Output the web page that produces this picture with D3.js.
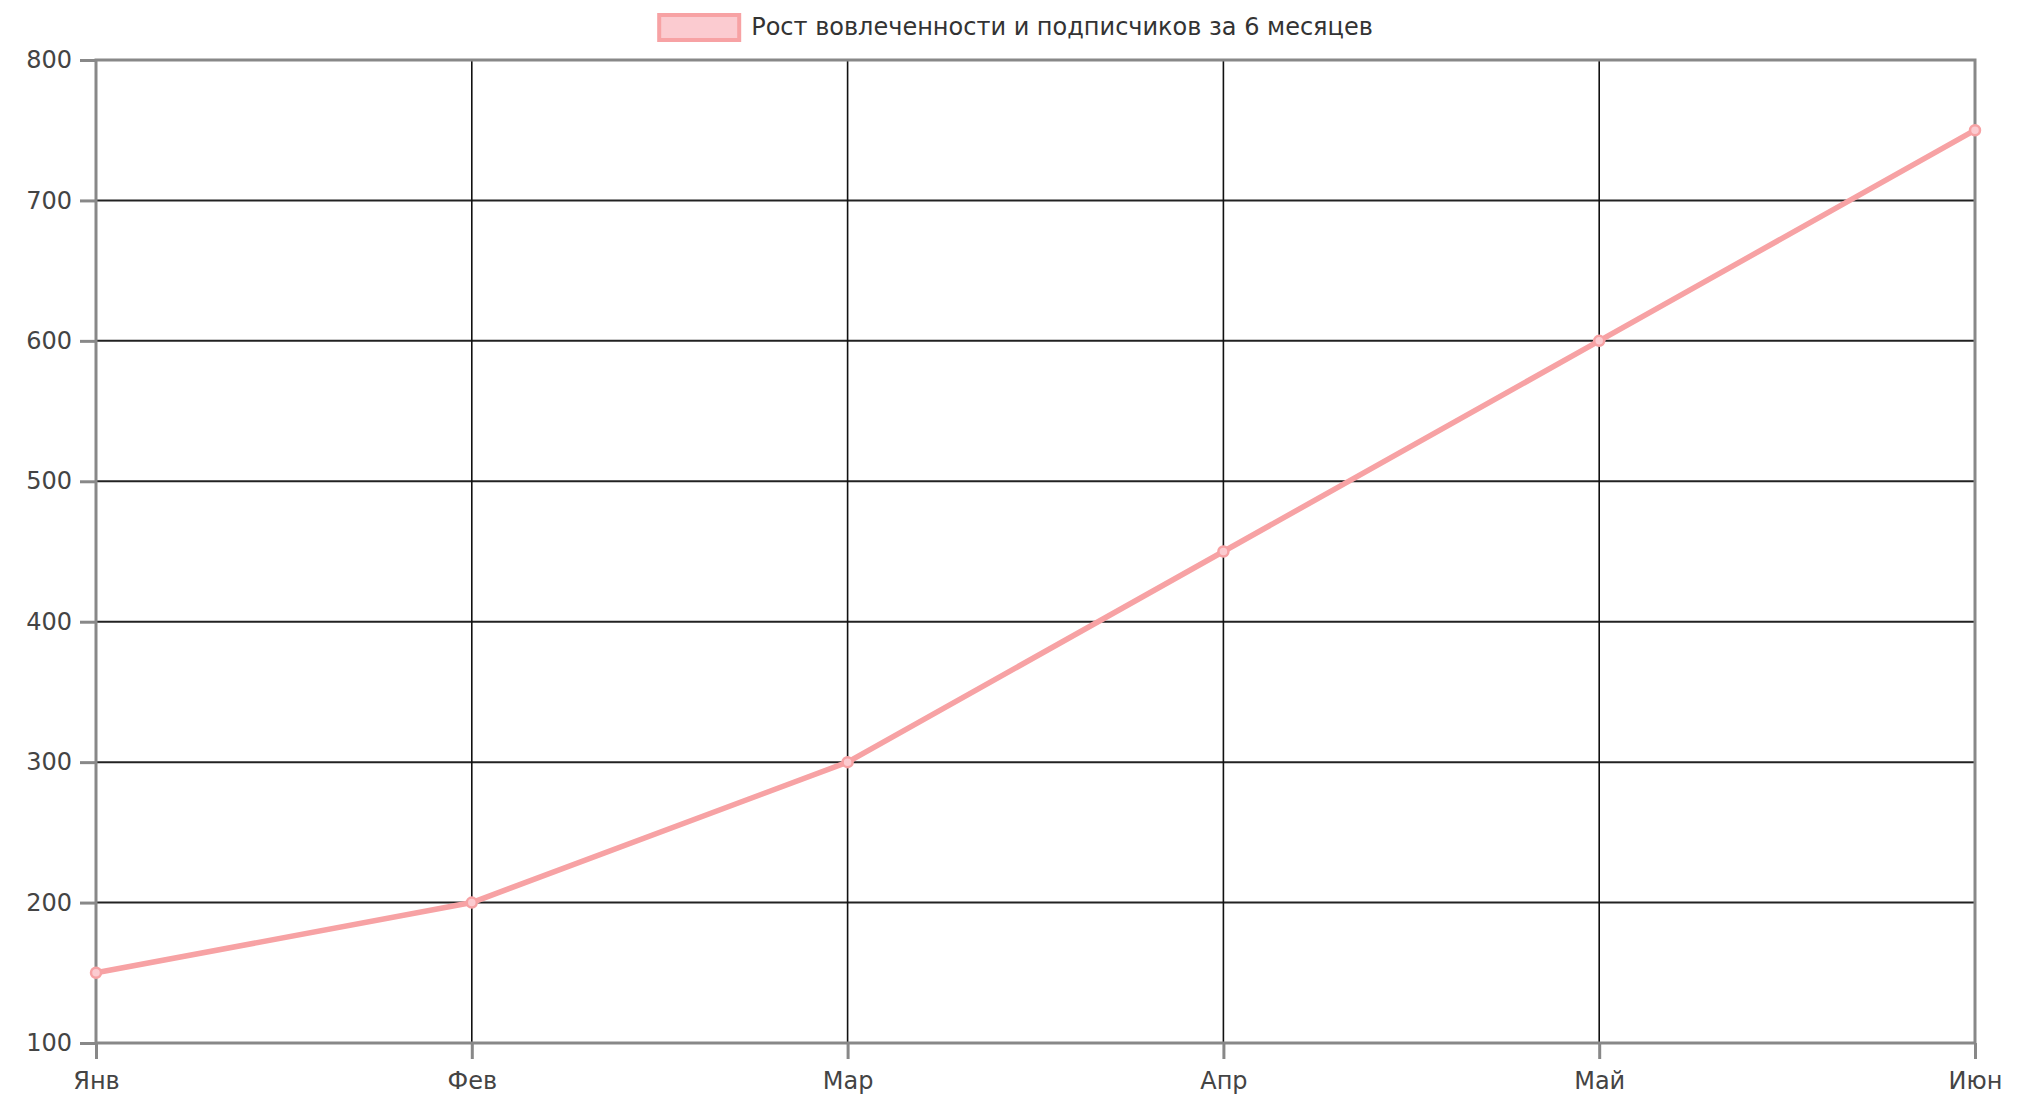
<!DOCTYPE html>
<html>
<head>
<meta charset="utf-8">
<script src="https://cdn.jsdelivr.net/npm/d3@7"></script>
<style>
  html, body { margin: 0; padding: 0; background: #fff; }
  svg { display: block; }
  text { font-family: "DejaVu Sans", sans-serif; }
</style>
</head>
<body>
<div id="chart"></div>
<script>
// chart data
const months = ["Янв", "Фев", "Мар", "Апр", "Май", "Июн"];
const values = [150, 200, 300, 450, 600, 750];
const yTicks = [100, 200, 300, 400, 500, 600, 700, 800];
const seriesLabel = "Рост вовлеченности и подписчиков за 6 месяцев";

const width = 2032, height = 1094;
const margin = { top: 60, right: 57, bottom: 51, left: 96 };

const lineColor = "#f7a2a4";
const fillColor = "#fbcbd0";

const svg = d3.select("#chart")
    .append("svg")
    .attr("width", width)
    .attr("height", height);

const innerW = width - margin.left - margin.right;
const innerH = height - margin.top - margin.bottom;

const g = svg.append("g")
    .attr("transform", `translate(${margin.left}, ${margin.top})`);

const x = d3.scalePoint()
    .domain(months)
    .range([0, innerW]);

const y = d3.scaleLinear()
    .domain([100, 800])
    .range([innerH, 0]);

// grid lines
g.append("g")
    .selectAll("line")
    .data(yTicks)
    .enter()
    .append("line")
    .attr("x1", 0)
    .attr("x2", innerW)
    .attr("y1", d => y(d))
    .attr("y2", d => y(d))
    .attr("stroke", "#222")
    .attr("stroke-width", 2);

g.append("g")
    .selectAll("line")
    .data(months)
    .enter()
    .append("line")
    .attr("x1", d => x(d))
    .attr("x2", d => x(d))
    .attr("y1", 0)
    .attr("y2", innerH)
    .attr("stroke", "#111")
    .attr("stroke-width", 1.6);

// axes
const yAxis = g.append("g")
    .call(d3.axisLeft(y).tickValues(yTicks).tickSize(16).tickPadding(8).tickSizeOuter(0));

const xAxis = g.append("g")
    .attr("transform", `translate(0, ${innerH})`)
    .call(d3.axisBottom(x).tickSize(16).tickPadding(13).tickSizeOuter(0));

[yAxis, xAxis].forEach(ax => {
    ax.select(".domain").remove();
    ax.selectAll(".tick line")
        .attr("stroke", "#888")
        .attr("stroke-width", 3);
    ax.selectAll("text")
        .attr("fill", "#444")
        .style("font-family", "DejaVu Sans, sans-serif")
        .style("font-size", "24px");
});

// border
g.append("rect")
    .attr("x", 0)
    .attr("y", 0)
    .attr("width", innerW)
    .attr("height", innerH)
    .attr("fill", "none")
    .attr("stroke", "#888")
    .attr("stroke-width", 3);

// the series
const line = d3.line()
    .x((d, i) => x(months[i]))
    .y(d => y(d));

g.append("path")
    .datum(values)
    .attr("d", line)
    .attr("fill", "none")
    .attr("stroke", lineColor)
    .attr("stroke-width", 5.5)
    .attr("stroke-linejoin", "round");

g.selectAll(".pt")
    .data(values)
    .enter()
    .append("circle")
    .attr("class", "pt")
    .attr("cx", (d, i) => x(months[i]))
    .attr("cy", d => y(d))
    .attr("r", 5)
    .attr("fill", fillColor)
    .attr("stroke", lineColor)
    .attr("stroke-width", 2.5);

// legend
const legend = svg.append("g");
const legendText = legend.append("text")
    .attr("x", 0)
    .attr("y", 27)
    .attr("dominant-baseline", "central")
    .attr("fill", "#333")
    .style("font-size", "24px")
    .text(seriesLabel);

const tw = legendText.node().getComputedTextLength();
const boxW = 80, gap = 12;
const startX = width / 2 - (boxW + gap + tw) / 2;

legend.append("rect")
    .attr("x", startX)
    .attr("y", 15)
    .attr("width", boxW)
    .attr("height", 25)
    .attr("fill", fillColor)
    .attr("stroke", lineColor)
    .attr("stroke-width", 4);

legendText.attr("x", startX + boxW + gap);
</script>
</body>
</html>
